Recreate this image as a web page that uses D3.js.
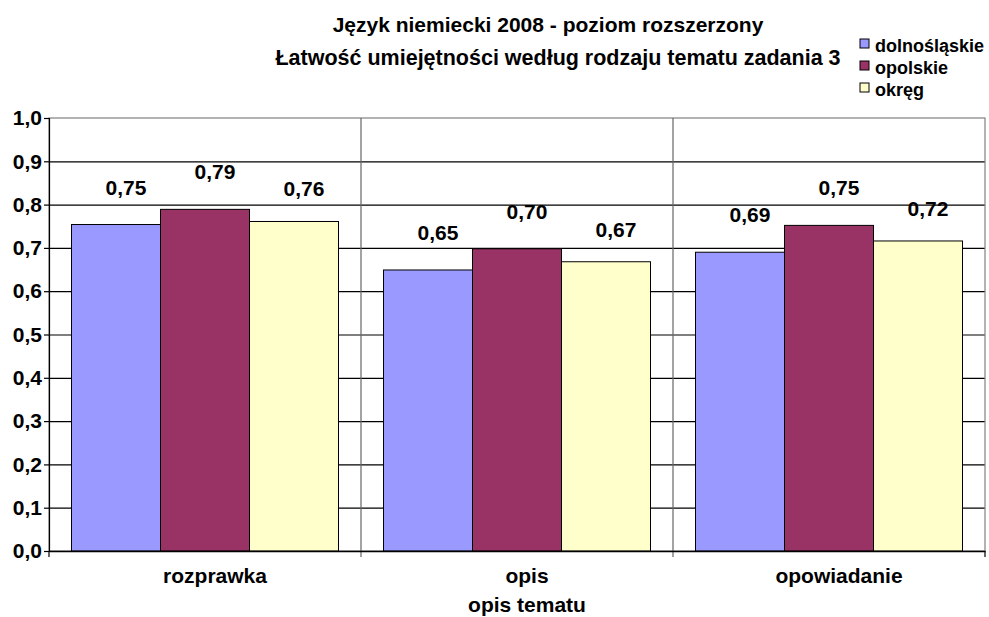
<!DOCTYPE html>
<html>
<head>
<meta charset="utf-8">
<script src="https://cdn.jsdelivr.net/npm/d3@7"></script>
<style>
  body { margin: 0; background: #fff; }
  text { font-family: "Liberation Sans", Arial, sans-serif; font-weight: bold; fill: #000; }
</style>
</head>
<body>
<svg id="chart" width="989" height="617"></svg>
<script>
var svg = d3.select("#chart");

var width = +svg.attr("width");
var height = +svg.attr("height");

// data
var categories = ["rozprawka", "opis", "opowiadanie"];
var seriesNames = ["dolnośląskie", "opolskie", "okręg"];
var dolnoslaskie = [0.754, 0.649, 0.690];
var opolskie = [0.789, 0.698, 0.752];
var okreg = [0.761, 0.668, 0.716];
var yTicks = [0, 0.1, 0.2, 0.3, 0.4, 0.5, 0.6, 0.7, 0.8, 0.9, 1.0];

var title1 = "Język niemiecki 2008 - poziom rozszerzony";
var title2 = "Łatwość umiejętności według rodzaju tematu zadania 3";
var xTitle = "opis tematu";

var colors = ["#9999FF", "#993366", "#FFFFCC"];
var labelOffset = [30, 30, 25];

var seriesValues = [dolnoslaskie, opolskie, okreg];

// plot area (note: "top" is reserved on window, so use other names)
var plotLeft = 49, plotRight = 985, plotTop = 118, plotBottom = 551;
var gap = 22.5;

var x0 = d3.scaleBand().domain(categories).range([plotLeft, plotRight]);
var x1 = d3.scaleBand().domain(seriesNames).range([gap, x0.bandwidth() - gap]);
var y = d3.scaleLinear().domain([0, 1]).range([plotBottom, plotTop]);

function fmt(v, n) { return v.toFixed(n).replace(".", ","); }

// gridlines
svg.append("g")
  .attr("transform", "translate(" + plotLeft + ",0)")
  .call(d3.axisLeft(y).tickValues(yTicks.slice(1, -1)).tickSize(-(plotRight - plotLeft)).tickFormat(""))
  .call(function (g) {
    g.select(".domain").remove();
    g.selectAll("line").attr("stroke", "#000").attr("stroke-width", 1.2);
  });

// plot border
svg.append("rect")
  .attr("x", plotLeft).attr("y", plotTop)
  .attr("width", plotRight - plotLeft).attr("height", plotBottom - plotTop)
  .attr("fill", "none").attr("stroke", "#808080").attr("stroke-width", 1.2);

// category separators
svg.selectAll(".sep")
  .data(categories.slice(1))
  .enter().append("line")
  .attr("x1", function (d) { return x0(d); })
  .attr("x2", function (d) { return x0(d); })
  .attr("y1", plotTop).attr("y2", plotBottom + 6)
  .attr("stroke", "#666").attr("stroke-width", 1.2);

// bars
var groups = svg.selectAll(".grp")
  .data(categories)
  .enter().append("g")
  .attr("transform", function (d) { return "translate(" + x0(d) + ",0)"; });

function rows(d, i) {
  return seriesNames.map(function (s, j) { return { s: s, j: j, v: seriesValues[j][i] }; });
}

groups.selectAll("rect")
  .data(rows)
  .enter().append("rect")
  .attr("x", function (d) { return x1(d.s); })
  .attr("y", function (d) { return y(d.v); })
  .attr("width", x1.bandwidth())
  .attr("height", function (d) { return y(0) - y(d.v); })
  .attr("fill", function (d) { return colors[d.j]; })
  .attr("stroke", "#000").attr("stroke-width", 1);

// value labels
groups.selectAll(".val")
  .data(rows)
  .enter().append("text")
  .attr("x", function (d) { return x1(d.s) + x1.bandwidth() / 2 + 10; })
  .attr("y", function (d) { return y(d.v) - labelOffset[d.j]; })
  .attr("text-anchor", "middle")
  .style("font-size", "21px")
  .text(function (d) { return fmt(d.v, 2); });

// y axis
svg.append("g")
  .attr("transform", "translate(" + plotLeft + ",0)")
  .call(d3.axisLeft(y).tickValues(yTicks).tickSize(5).tickPadding(2).tickFormat(function (d) { return fmt(d, 1); }))
  .call(function (g) {
    g.select(".domain").attr("stroke", "#000").attr("stroke-width", 1.2);
    g.selectAll("line").attr("stroke", "#000").attr("stroke-width", 1.2);
    g.selectAll("text").style("font-size", "21px").attr("font-family", null);
  });

// x axis
svg.append("g")
  .attr("transform", "translate(0," + plotBottom + ")")
  .call(d3.axisBottom(x0).tickSize(0).tickPadding(17))
  .call(function (g) {
    g.select(".domain").attr("stroke", "#000").attr("stroke-width", 1.5);
    g.selectAll("text").style("font-size", "21px").attr("font-family", null).attr("dx", 10);
  });

svg.selectAll(".xt")
  .data([plotLeft, plotRight])
  .enter().append("line")
  .attr("x1", function (d) { return d; }).attr("x2", function (d) { return d; })
  .attr("y1", plotBottom).attr("y2", plotBottom + 6)
  .attr("stroke", "#000").attr("stroke-width", 1.2);

// axis title
svg.append("text")
  .attr("x", (plotLeft + plotRight) / 2 + 10).attr("y", 612)
  .attr("text-anchor", "middle")
  .style("font-size", "21px")
  .text(xTitle);

// titles
svg.append("text")
  .attr("x", 548).attr("y", 32)
  .attr("text-anchor", "middle")
  .style("font-size", "21px")
  .text(title1);

svg.append("text")
  .attr("x", 558).attr("y", 65)
  .attr("text-anchor", "middle")
  .style("font-size", "21.5px")
  .text(title2);

// legend
var legend = svg.selectAll(".leg")
  .data(seriesNames)
  .enter().append("g")
  .attr("transform", function (d, i) { return "translate(860," + (39 + i * 22) + ")"; });

legend.append("rect")
  .attr("width", 9).attr("height", 9)
  .attr("fill", function (d, i) { return colors[i]; })
  .attr("stroke", "#000").attr("stroke-width", 1);

legend.append("text")
  .attr("x", 15).attr("y", 13)
  .style("font-size", "18px")
  .text(function (d) { return d; });
</script>
</body>
</html>
